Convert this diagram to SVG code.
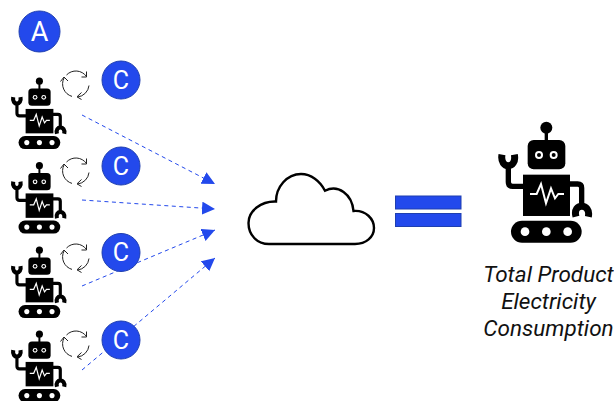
<svg xmlns="http://www.w3.org/2000/svg" width="614" height="401" viewBox="0 0 614 401">
<style>
.badge{fill:#2349ec;stroke:#1f3fb0;stroke-width:1}
.bl{font-family:Roboto,"Liberation Sans",sans-serif;font-weight:400;fill:#fff;text-anchor:middle}
.cap{font-family:Roboto,"Liberation Sans",sans-serif;font-style:italic;font-size:22.500px;fill:#111;text-anchor:middle}
.dash{fill:none;stroke:#2349ec;stroke-width:1;stroke-dasharray:4 3.500;marker-end:url(#ah)}
.cy{fill:none;stroke:#222;stroke-width:1}
</style>
<defs>
<marker id="ah" markerUnits="userSpaceOnUse" markerWidth="16" markerHeight="14" refX="13" refY="6.500" orient="auto"><path d="M0,0L13,6.500L0,13Z" fill="#2349ec"/></marker>
<symbol id="robot" overflow="visible">
<circle cx="199" cy="53" r="18"/><rect x="194" y="55" width="10" height="40"/>
<rect x="143" y="90" width="113" height="88" rx="18"/>
<circle cx="177" cy="135" r="12" fill="#fff"/><circle cx="177" cy="135" r="6"/>
<circle cx="221" cy="135" r="12" fill="#fff"/><circle cx="221" cy="135" r="6"/>
<rect x="129" y="194" width="141" height="124"/>
<path d="M135,229H98Q85,229 85,216V165M265,222H293Q305,222 305,234V285" fill="none" stroke="#000" stroke-width="16"/>
<path d="M66,134C58,178 112,178 103,134M288,320C276,278 334,278 325,320" fill="none" stroke="#000" stroke-width="21"/>
<rect x="93" y="332" width="212" height="66" rx="33"/>
<circle cx="135" cy="365" r="13" fill="#fff"/><circle cx="199" cy="365" r="13" fill="#fff"/><circle cx="263" cy="365" r="13" fill="#fff"/>
<path d="M150,252H170L183,222L198,280L213,235L225,265L235,252H252" fill="none" stroke="#fff" stroke-width="6"/>
</symbol>
<g id="cycle"><path class="cy" d="M-9.500,-9A13,13 0 0 1 10.500,-7.500M10.500,-12.500L10.500,-7L5.500,-7M13,1.500A13,13 0 0 1 1.500,13M5.500,8.500L1,12.800L5.500,15.500M-4,12.400A13,13 0 0 1 -12,-6M-15.500,-2.500L-12,-7L-8,-3"/></g>
</defs>
<g id="connectors">
<path class="dash" d="M82,115L215,184"/>
<path class="dash" d="M82,200L215,209"/>
<path class="dash" d="M82,286L215,230"/>
<path class="dash" d="M82,370L215,258"/>
</g>
<g id="node-a"><circle class="badge" cx="39.500" cy="31.500" r="20.500"/><text class="bl" x="39.500" y="41" font-size="27">A</text></g>
<g id="agent-1"><use href="#robot" transform="translate(0.200,70.700) scale(.197)"/><use href="#cycle" x="76" y="84"/><circle class="badge" cx="121" cy="80" r="19"/><text class="bl" x="121" y="88.500" font-size="25">C</text></g>
<g id="agent-2"><use href="#robot" transform="translate(0.200,155.200) scale(.197)"/><use href="#cycle" x="76" y="171"/><circle class="badge" cx="121" cy="166" r="19"/><text class="bl" x="121" y="174.500" font-size="25">C</text></g>
<g id="agent-3"><use href="#robot" transform="translate(0.200,239.700) scale(.197)"/><use href="#cycle" x="76" y="257"/><circle class="badge" cx="121" cy="252.500" r="19"/><text class="bl" x="121" y="261" font-size="25">C</text></g>
<g id="agent-4"><use href="#robot" transform="translate(0.200,323.700) scale(.197)"/><use href="#cycle" x="76" y="344"/><circle class="badge" cx="121" cy="340" r="19"/><text class="bl" x="121" y="348.500" font-size="25">C</text></g>
<g id="cloud"><path d="M276,201.500C276,187 287,174 301,174C311,174 320,181 325,190.700C338,184 352,194 353.500,211C366,210 374,219 374,228C374,237 366,244 355,244H269C257,244 248.500,235 248.500,223C248.500,211 261,201 276,201.500Z" fill="#fff" stroke="#000" stroke-width="2.400"/></g>
<g id="equals"><rect class="badge" x="395.500" y="196" width="65.500" height="13"/><rect class="badge" x="395.500" y="213.500" width="65.500" height="13"/></g>
<g id="total"><use href="#robot" transform="translate(480,110) scale(.3333)"/>
<text class="cap" x="548.500" y="282">Total Product</text><text class="cap" x="548.500" y="309">Electricity</text><text class="cap" x="548.500" y="336">Consumption</text></g>
</svg>
